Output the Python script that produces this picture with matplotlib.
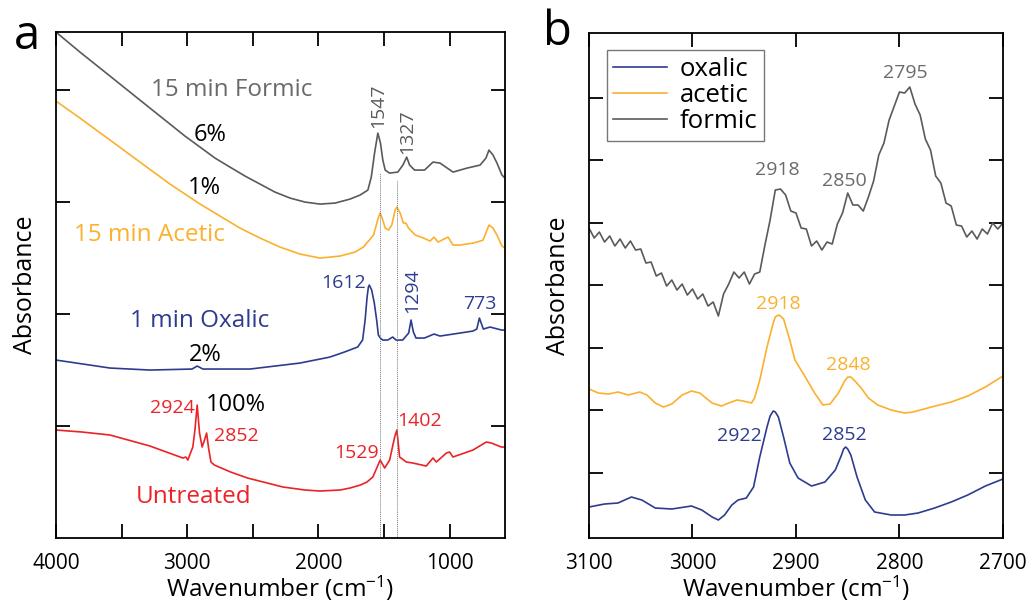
import matplotlib
matplotlib.use("Agg")
import matplotlib.pyplot as plt
from matplotlib.ticker import MultipleLocator, FixedLocator

plt.rcParams['font.family'] = ['Open Sans', 'DejaVu Sans']
plt.rcParams['mathtext.fontset'] = 'custom'
plt.rcParams['mathtext.rm'] = 'Open Sans'
plt.rcParams['mathtext.default'] = 'regular'
plt.rcParams['lines.solid_joinstyle'] = 'round'

GRAY = '#5a5a5a'
ORANGE = '#fbb02e'
BLUE = '#2e3c8f'
RED = '#ec2226'
LABEL_GRAY = '#6a6a6a'

# ---- panel a: full range spectra (offset absorbance, arb. units) ----
formic_wn = [4000, 3817, 3588, 3360, 3131, 3017, 2902, 2788, 2674, 2559, 2445, 2331,
             2216, 2102, 1988, 1873, 1759, 1683, 1623, 1597, 1572, 1547, 1527, 1509,
             1491, 1458, 1395, 1356, 1327, 1305, 1267, 1191, 1127, 1073, 974, 867,
             768, 723, 700, 669, 639, 601, 578]
formic_abs = [5.06, 4.86, 4.62, 4.38, 4.14, 4.02, 3.91, 3.80, 3.71, 3.62, 3.54, 3.46,
              3.40, 3.36, 3.34, 3.35, 3.39, 3.43, 3.48, 3.61, 3.85, 4.05, 3.95, 3.78,
              3.68, 3.65, 3.66, 3.73, 3.81, 3.73, 3.68, 3.68, 3.76, 3.75, 3.66, 3.70,
              3.73, 3.80, 3.88, 3.83, 3.75, 3.63, 3.60]

acetic_wn = [4000, 3817, 3588, 3360, 3131, 2902, 2750, 2598, 2445, 2293, 2140, 1988,
             1835, 1721, 1657, 1580, 1542, 1529, 1509, 1491, 1466, 1441, 1415, 1402,
             1377, 1352, 1334, 1313, 1262, 1199, 1149, 1119, 1088, 1012, 974, 921,
             822, 791, 745, 700, 669, 639, 601, 578]
acetic_abs = [4.37, 4.20, 3.98, 3.76, 3.54, 3.34, 3.22, 3.10, 3.00, 2.91, 2.84, 2.80,
              2.82, 2.86, 2.91, 3.03, 3.21, 3.25, 3.18, 3.10, 3.08, 3.13, 3.28, 3.31,
              3.25, 3.15, 3.15, 3.10, 3.03, 3.00, 2.97, 3.01, 2.96, 3.01, 2.93, 2.93,
              2.95, 2.96, 2.98, 3.13, 3.10, 3.03, 2.92, 2.90]

oxalic_wn = [4000, 3588, 3284, 2963, 2924, 2880, 2521, 2140, 1912, 1802, 1701, 1663,
             1644, 1629, 1619, 1612, 1594, 1574, 1556, 1543, 1528, 1510, 1472, 1434,
             1408, 1358, 1312, 1294, 1276, 1256, 1192, 1119, 1073, 921, 822, 793,
             773, 743, 692, 603, 578]
oxalic_abs = [1.78, 1.70, 1.68, 1.69, 1.72, 1.69, 1.69, 1.75, 1.81, 1.86, 1.91, 1.98,
              2.18, 2.41, 2.51, 2.53, 2.48, 2.35, 2.18, 2.03, 2.00, 1.98, 1.98, 2.01,
              1.98, 1.98, 2.05, 2.18, 2.06, 2.00, 2.00, 2.04, 2.02, 2.05, 2.07, 2.09,
              2.20, 2.09, 2.11, 2.08, 2.08]

untreated_wn = [4000, 3800, 3588, 3284, 3033, 3010, 2995, 2972, 2957, 2941, 2924, 2906,
                2886, 2868, 2852, 2837, 2819, 2793, 2669, 2540, 2270, 2102, 1988, 1835,
                1759, 1680, 1630, 1585, 1529, 1495, 1457, 1419, 1402, 1381, 1330, 1280,
                1178, 1127, 1101, 1025, 1000, 975, 822, 720, 682, 606, 578]
untreated_abs = [1.08, 1.06, 1.03, 0.92, 0.80, 0.81, 0.78, 0.86, 0.91, 1.08, 1.33, 1.05,
                 0.91, 0.98, 1.05, 0.90, 0.76, 0.73, 0.66, 0.60, 0.51, 0.48, 0.47, 0.48,
                 0.50, 0.53, 0.56, 0.61, 0.78, 0.70, 0.78, 1.01, 1.08, 0.81, 0.76, 0.75,
                 0.72, 0.80, 0.76, 0.85, 0.86, 0.81, 0.88, 0.96, 0.95, 0.91, 0.91]

marker_lines_wn = [1529, 1402]
marker_lines_top = [3.65, 3.58]

# ---- panel b: C-H stretch region ----
formic_b_wn = list(range(3100, 2695, -5))
formic_b_abs = [3.10, 3.00, 3.06, 2.96, 3.02, 2.92, 2.99, 2.90, 2.97, 2.88,
                2.89, 2.75, 2.76, 2.62, 2.65, 2.52, 2.58, 2.48, 2.54, 2.43,
                2.49, 2.39, 2.44, 2.32, 2.36, 2.22, 2.44, 2.54, 2.66, 2.60,
                2.66, 2.54, 2.64, 2.66, 2.93, 3.18, 3.48, 3.49, 3.43, 3.27,
                3.25, 3.10, 3.09, 2.92, 2.97, 2.88, 2.96, 2.94, 3.14, 3.25,
                3.45, 3.33, 3.33, 3.27, 3.41, 3.57, 3.83, 3.95, 4.18, 4.32,
                4.46, 4.45, 4.51, 4.34, 4.23, 3.99, 3.88, 3.62, 3.55, 3.35,
                3.32, 3.13, 3.12, 3.01, 3.07, 2.99, 3.09, 3.04, 3.15, 3.09, 3.15]

acetic_b_wn = [3100, 3091, 3081, 3072, 3062, 3051, 3044, 3036, 3028, 3020, 3010, 3001,
               2993, 2981, 2972, 2965, 2957, 2951, 2943, 2940, 2935, 2928, 2922, 2920,
               2917, 2915, 2912, 2906, 2901, 2891, 2882, 2874, 2867, 2859, 2853, 2850,
               2847, 2843, 2837, 2830, 2821, 2808, 2795, 2787, 2769, 2750, 2734, 2717,
               2700]
acetic_b_abs = [1.49, 1.45, 1.44, 1.46, 1.43, 1.46, 1.43, 1.35, 1.31, 1.34, 1.43, 1.47,
                1.45, 1.35, 1.32, 1.35, 1.38, 1.37, 1.35, 1.40, 1.58, 1.91, 2.15, 2.21,
                2.23, 2.22, 2.19, 1.98, 1.78, 1.61, 1.45, 1.33, 1.34, 1.45, 1.57, 1.61,
                1.61, 1.57, 1.50, 1.40, 1.33, 1.28, 1.25, 1.26, 1.31, 1.36, 1.42, 1.51,
                1.62]

oxalic_b_wn = [3100, 3085, 3072, 3059, 3049, 3036, 3020, 3001, 2991, 2981, 2975, 2969,
               2962, 2956, 2948, 2941, 2935, 2928, 2925, 2922, 2920, 2917, 2912, 2906,
               2898, 2885, 2872, 2862, 2856, 2854, 2852, 2850, 2847, 2841, 2833, 2824,
               2808, 2795, 2782, 2766, 2750, 2734, 2717, 2700]
oxalic_b_abs = [0.31, 0.34, 0.35, 0.41, 0.38, 0.30, 0.29, 0.32, 0.28, 0.21, 0.18, 0.23,
                0.33, 0.38, 0.40, 0.51, 0.81, 1.11, 1.22, 1.27, 1.26, 1.21, 1.01, 0.75,
                0.60, 0.52, 0.56, 0.68, 0.83, 0.89, 0.91, 0.89, 0.83, 0.61, 0.38, 0.26,
                0.23, 0.23, 0.25, 0.30, 0.36, 0.43, 0.52, 0.59]

fig = plt.figure(figsize=(10.31, 6.06), dpi=100)
ax_a = fig.add_axes([0.0543, 0.1122, 0.4355, 0.8348])
ax_b = fig.add_axes([0.5713, 0.1122, 0.4015, 0.8333])

lw = 1.2
ax_a.plot(formic_wn, formic_abs, color=GRAY, lw=lw)
ax_a.plot(acetic_wn, acetic_abs, color=ORANGE, lw=lw)
ax_a.plot(oxalic_wn, oxalic_abs, color=BLUE, lw=lw)
ax_a.plot(untreated_wn, untreated_abs, color=RED, lw=lw)
ax_a.vlines(marker_lines_wn, 0, marker_lines_top, colors='#777777', lw=0.7,
            linestyles=(0, (1, 1)))

ax_b.plot(oxalic_b_wn, oxalic_b_abs, color=BLUE, lw=lw, label='oxalic')
ax_b.plot(acetic_b_wn, acetic_b_abs, color=ORANGE, lw=lw, label='acetic')
ax_b.plot(formic_b_wn, formic_b_abs, color=GRAY, lw=lw, label='formic')

ax_a.set_xlim(4000, 578)
ax_a.set_ylim(0, 5.06)
ax_b.set_xlim(3100, 2700)
ax_b.set_ylim(0, 5.05)

ax_a.xaxis.set_major_locator(MultipleLocator(500))
ax_a.yaxis.set_major_locator(FixedLocator([1.12, 2.24, 3.36, 4.48]))
ax_b.xaxis.set_major_locator(MultipleLocator(100))
ax_b.yaxis.set_major_locator(FixedLocator([0.65, 1.28, 1.90, 2.53, 3.15, 3.78, 4.40]))

for ax in (ax_a, ax_b):
    ax.tick_params(direction='in', length=10, width=1.3, top=True, right=True,
                   labelsize=15)
    ax.tick_params(axis='x', pad=11)
    ax.tick_params(axis='y', pad=8)
    ax.set_yticklabels([])
    for s in ax.spines.values():
        s.set_linewidth(1.3)
    ax.set_xlabel('Wavenumber (cm$^{-1}$)', fontsize=17.5, labelpad=0)
    ax.set_ylabel('Absorbance', fontsize=18, labelpad=5)

ax_a.xaxis.set_major_formatter(plt.FuncFormatter(
    lambda v, p: f'{int(v)}' if v % 1000 == 0 else ''))

# legend
leg = ax_b.legend(loc='upper left', bbox_to_anchor=(0.043, 0.966), borderaxespad=0,
                  fancybox=False, edgecolor='#777777', fontsize=18.5,
                  handlelength=2.1, labelspacing=0.05, borderpad=0.25,
                  handletextpad=0.5, framealpha=1)
leg.get_frame().set_linewidth(1.0)

# panel letters
fig.text(0.026, 0.941, 'a', fontsize=34, ha='center', va='center')
fig.text(0.541, 0.947, 'b', fontsize=34, ha='center', va='center')

# panel a annotations
ka = dict(ha='center', va='center')
ax_a.text(2659, 4.48, '15 min Formic', color=LABEL_GRAY, fontsize=17.5, **ka)
ax_a.text(2826, 4.03, '6%', color='black', fontsize=17, **ka)
ax_a.text(2872, 3.50, '1%', color='black', fontsize=17, **ka)
ax_a.text(3284, 3.03, '15 min Acetic', color=ORANGE, fontsize=17.5, **ka)
ax_a.text(1546, 4.32, '1547', color=GRAY, fontsize=14, rotation=90, **ka)
ax_a.text(1325, 4.06, '1327', color=GRAY, fontsize=14, rotation=90, **ka)
ax_a.text(1812, 2.55, '1612', color=BLUE, fontsize=14, **ka)
ax_a.text(1287, 2.47, '1294', color=BLUE, fontsize=14, rotation=90, **ka)
ax_a.text(768, 2.34, '773', color=BLUE, fontsize=14, **ka)
ax_a.text(2902, 2.17, '1 min Oxalic', color=BLUE, fontsize=17.5, **ka)
ax_a.text(2864, 1.83, '2%', color='black', fontsize=17, **ka)
ax_a.text(3116, 1.30, '2924', color=RED, fontsize=14, **ka)
ax_a.text(2628, 1.33, '100%', color='black', fontsize=17, **ka)
ax_a.text(2628, 1.02, '2852', color=RED, fontsize=14, **ka)
ax_a.text(1706, 0.85, '1529', color=RED, fontsize=14, **ka)
ax_a.text(1226, 1.17, '1402', color=RED, fontsize=14, **ka)
ax_a.text(2948, 0.41, 'Untreated', color=RED, fontsize=17.5, **ka)

# panel b annotations
ax_b.text(2918, 3.68, '2918', color=LABEL_GRAY, fontsize=14, **ka)
ax_b.text(2853, 3.57, '2850', color=LABEL_GRAY, fontsize=14, **ka)
ax_b.text(2794, 4.65, '2795', color=LABEL_GRAY, fontsize=14, **ka)
ax_b.text(2917, 2.34, '2918', color=ORANGE, fontsize=14, **ka)
ax_b.text(2849, 1.73, '2848', color=ORANGE, fontsize=14, **ka)
ax_b.text(2955, 1.02, '2922', color=BLUE, fontsize=14, **ka)
ax_b.text(2853, 1.03, '2852', color=BLUE, fontsize=14, **ka)

fig.savefig('out.png', dpi=100)
